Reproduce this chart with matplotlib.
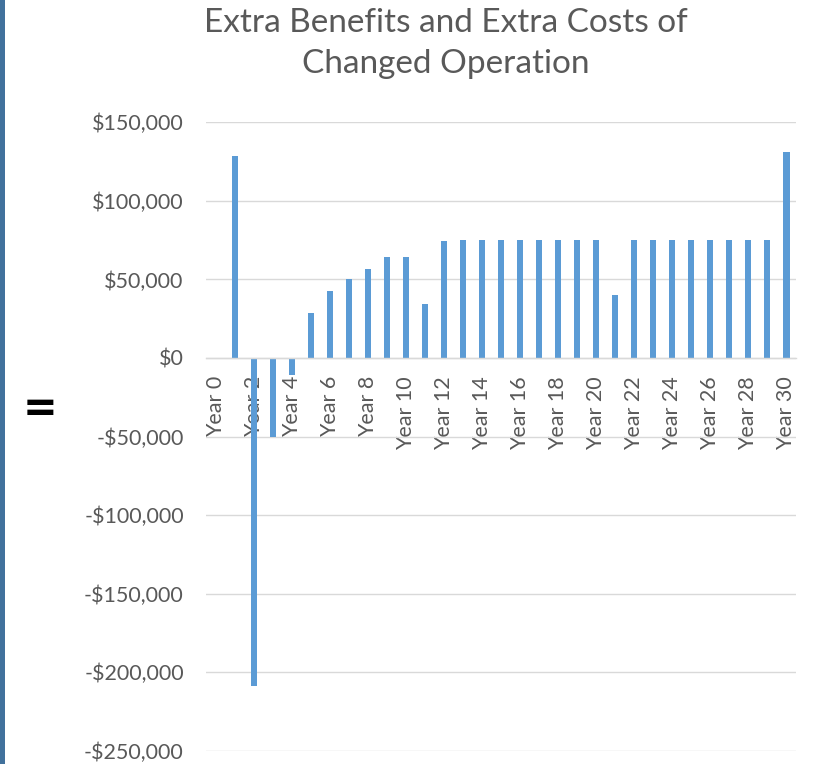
import matplotlib
matplotlib.use("Agg")
import matplotlib.pyplot as plt
from matplotlib.patches import Rectangle
from matplotlib.ticker import FuncFormatter

# Net yearly difference between the changed and current operation
years = list(range(31))
year_labels = [f"Year {y}" for y in years]
net_values = [0, 128600, -209000, -50000, -11000, 28700, 42500, 50400, 56600, 64000,
              64000, 34200, 74400, 75300, 75300, 75300, 75300, 75300, 75300, 75300,
              75300, 39800, 75300, 75300, 75300, 75300, 75300, 75300, 75300, 75300,
              131200]

plt.rcParams['font.family'] = ['Lato', 'DejaVu Sans']
text_color = '#595959'

fig = plt.figure(figsize=(8.21, 7.64), dpi=100)
ax = fig.add_axes([206 / 821, 13.3 / 764, 590 / 821, 628.4 / 764])

ax.bar(years, net_values, width=0.32, color='#5B9BD5', zorder=2)

# category axis sits on the zero line
for side in ['top', 'right', 'left']:
    ax.spines[side].set_visible(False)
ax.spines['bottom'].set_position(('data', 0))
ax.spines['bottom'].set_color('#D9D9D9')
ax.spines['bottom'].set_linewidth(1.0)

ax.set_xlim(-0.5, 30.5)
ax.set_ylim(-250000, 150000)
ax.set_yticks(range(-250000, 150001, 50000))
ax.yaxis.set_major_formatter(FuncFormatter(
    lambda v, _: f"-${abs(v):,.0f}" if v < 0 else f"${v:,.0f}"))

# every second year labelled
ax.set_xticks(years[::2])
ax.set_xticklabels(year_labels[::2])

ax.set_axisbelow(True)
ax.grid(axis='y', color='#D9D9D9', linewidth=1.0)

ax.tick_params(axis='y', length=0, pad=16, labelsize=15.5, labelcolor=text_color)
ax.tick_params(axis='x', length=0, pad=13, labelsize=15.5, labelcolor=text_color,
               labelrotation=90)

fig.text(446 / 821, 1 - 8 / 764, "Extra Benefits and Extra Costs of\nChanged Operation",
         ha='center', va='top', fontsize=24, color=text_color, linespacing=1.45)

# slide decoration: side stripe and equals sign
fig.add_artist(Rectangle((0, 0), 5 / 821, 1, transform=fig.transFigure,
                         color='#41719C', lw=0))
fig.text(40 / 821, 1 - 409 / 764, "=", ha='center', va='center',
         fontsize=30, fontweight='bold', color='black', family='DejaVu Sans')

fig.savefig("out.png", dpi=100)
